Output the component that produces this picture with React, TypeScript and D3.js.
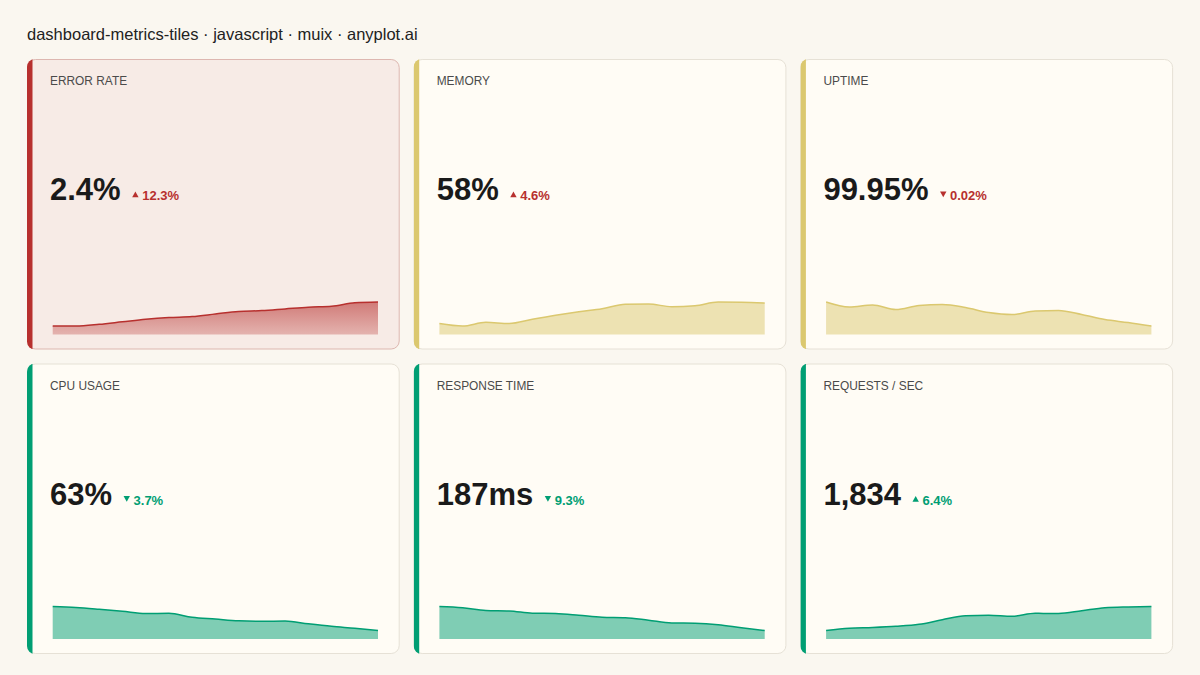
import React from 'react';
import * as d3 from 'd3';

// tile order, row by row
const labels = ['ERROR RATE', 'MEMORY', 'UPTIME', 'CPU USAGE', 'RESPONSE TIME', 'REQUESTS / SEC'];
const values = ['2.4%', '58%', '99.95%', '63%', '187ms', '1,834'];
const deltas = ['12.3%', '4.6%', '0.02%', '3.7%', '9.3%', '6.4%'];
const directions = ['up', 'up', 'down', 'down', 'down', 'up'];
const statuses = ['critical', 'warning', 'warning', 'good', 'good', 'good'];

const errorRate = [2.12, 2.12, 2.14, 2.17, 2.2, 2.22, 2.23, 2.26, 2.29, 2.3, 2.32, 2.34, 2.35, 2.39, 2.4];
const memory = [49.8, 48.8, 50.3, 49.8, 51.5, 53.1, 54.5, 55.7, 57.5, 57.6, 56.5, 56.9, 58.4, 58.3, 58.0];
const uptime = [99.998, 99.988, 99.992, 99.983, 99.991, 99.993, 99.987, 99.977, 99.973, 99.98, 99.981, 99.973, 99.963, 99.957, 99.95];
const cpu = [72.6, 72.2, 71.5, 70.7, 69.8, 69.9, 68.3, 67.6, 66.9, 66.7, 66.8, 65.7, 64.7, 63.9, 63.0];
const responseTime = [208.6, 207.5, 205.0, 204.6, 202.6, 202.3, 200.8, 199.0, 198.6, 196.3, 193.8, 193.6, 192.3, 189.5, 187.0];
const requests = [1714, 1725, 1729, 1735, 1745, 1768, 1788, 1791, 1785, 1800, 1799, 1813, 1828, 1832, 1834];

const series = [errorRate, memory, uptime, cpu, responseTime, requests];

const W = 1200;
const H = 675;
const FONT = '"Liberation Sans", Arial, Helvetica, sans-serif';

const colors: Record<string, string> = {
  critical: '#B7302E',
  warning: '#DBC86F',
  good: '#009E73',
};

const cardX0 = 27;
const cardY0 = 59;
const cardW = 372.7;
const cardH = 290.5;
const gap = 14;

const TileValue: React.FC<{ x: number; y: number; value: string; delta: string; dir: string; color: string }> = ({
  x, y, value, delta, dir, color,
}) => {
  const ref = React.useRef<SVGTextElement>(null);
  const [w, setW] = React.useState(0);
  React.useLayoutEffect(() => {
    if (ref.current) setW(ref.current.getComputedTextLength());
  }, [value]);
  const tx = x + w + 11.5;
  // small arrow marker beside the delta
  const tri = dir === 'up'
    ? `M${tx},${y - 2.8} L${tx + 6.4},${y - 2.8} L${tx + 3.2},${y - 8.4} Z`
    : `M${tx},${y - 8.4} L${tx + 6.4},${y - 8.4} L${tx + 3.2},${y - 2.8} Z`;
  return (
    <g>
      <text ref={ref} x={x} y={y} fontSize={31} fontWeight={700} fill="#1A1A1A" fontFamily={FONT}>
        {value}
      </text>
      <path d={tri} fill={color} />
      <text x={tx + 10} y={y} fontSize={13} fontWeight={700} fill={color} fontFamily={FONT}>
        {delta}
      </text>
    </g>
  );
};

const Tile: React.FC<{ i: number }> = ({ i }) => {
  const col = i % 3;
  const row = Math.floor(i / 3);
  const x0 = cardX0 + col * (cardW + gap);
  const y0 = cardY0 + row * (cardH + gap);
  const status = statuses[i];
  const color = colors[status];
  const data = series[i];
  const deltaColor = i < 3 ? colors.critical : colors.good;

  const lo = d3.min(data)!;
  const hi = d3.max(data)!;
  const bottom = y0 + cardH - 15;
  const x = d3.scaleLinear().domain([0, data.length - 1]).range([x0 + 25.7, x0 + cardW - 21.7]);
  const y = d3.scaleLinear().domain([lo - (hi - lo) * 0.35, hi]).range([bottom, bottom - 32.5]);

  const area = d3.area<number>()
    .x((_, j) => x(j))
    .y0(bottom)
    .y1(d => y(d))
    .curve(d3.curveMonotoneX);
  const line = d3.line<number>()
    .x((_, j) => x(j))
    .y(d => y(d))
    .curve(d3.curveMonotoneX);

  const clipId = `clip-${i}`;
  const gradId = `grad-${i}`;
  const isCritical = status === 'critical';

  return (
    <g>
      <defs>
        <clipPath id={clipId}>
          <rect x={x0} y={y0} width={cardW} height={cardH} rx={8} />
        </clipPath>
        <linearGradient id={gradId} x1="0" y1="0" x2="0" y2="1">
          <stop offset="0%" stopColor={color} stopOpacity={0.6} />
          <stop offset="100%" stopColor={color} stopOpacity={0.3} />
        </linearGradient>
      </defs>
      <rect
        x={x0 + 0.5}
        y={y0 + 0.5}
        width={cardW - 1}
        height={cardH - 1}
        rx={8}
        fill={isCritical ? '#F7EBE6' : '#FFFCF5'}
        stroke={isCritical ? '#DDB7B0' : '#E6E1D6'}
        strokeWidth={1}
      />
      <rect x={x0} y={y0} width={5.5} height={cardH} fill={color} clipPath={`url(#${clipId})`} />
      <text x={x0 + 23} y={y0 + 26} fontSize={11.9} fill="#4A4A4A" fontFamily={FONT}>
        {labels[i]}
      </text>
      <TileValue x={x0 + 23} y={y0 + 141} value={values[i]} delta={deltas[i]} dir={directions[i]} color={deltaColor} />
      <path d={area(data) ?? ''} fill={isCritical ? `url(#${gradId})` : color} fillOpacity={isCritical ? 1 : 0.5} />
      <path d={line(data) ?? ''} fill="none" stroke={color} strokeWidth={1.5} />
    </g>
  );
};

const App: React.FC = () => {
  return (
    <div style={{ position: 'fixed', left: 0, top: 0, width: W, height: H }}>
      <svg width={W} height={H} viewBox={`0 0 ${W} ${H}`} style={{ display: 'block' }}>
        <rect width={W} height={H} fill="#FAF7F0" />
        <text x={27} y={40} fontSize={16.5} fill="#222" fontFamily={FONT}>
          dashboard-metrics-tiles · javascript · muix · anyplot.ai
        </text>
        {labels.map((_, i) => (
          <Tile key={i} i={i} />
        ))}
      </svg>
    </div>
  );
};

export default App;
